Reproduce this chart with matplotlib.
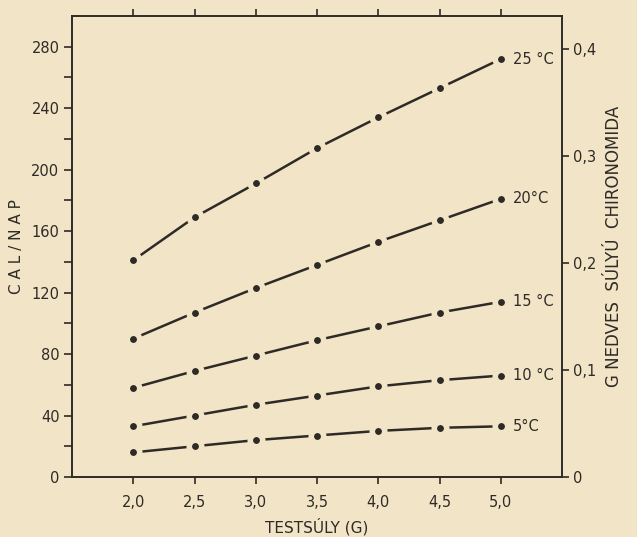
import matplotlib
matplotlib.use("Agg")
import matplotlib.pyplot as plt
import numpy as np

weights = [2.0, 2.5, 3.0, 3.5, 4.0, 4.5, 5.0]
cal_25 = [141, 169, 191, 214, 234, 253, 272]
cal_20 = [90, 107, 123, 138, 153, 167, 181]
cal_15 = [58, 69, 79, 89, 98, 107, 114]
cal_10 = [33, 40, 47, 53, 59, 63, 66]
cal_5 = [16, 20, 24, 27, 30, 32, 33]
series = [("25 °C", cal_25), ("20°C", cal_20), ("15 °C", cal_15),
          ("10 °C", cal_10), ("5°C", cal_5)]
x_ticks = [2.0, 2.5, 3.0, 3.5, 4.0, 4.5, 5.0]
x_labels = ["2,0", "2,5", "3,0", "3,5", "4,0", "4,5", "5,0"]
y_major = [0, 40, 80, 120, 160, 200, 240, 280]
y_labels = ["0", "40", "80", "120", "160", "200", "240", "280"]
r_ticks = [0, 0.1, 0.2, 0.3, 0.4]
r_labels = ["0", "0,1", "0,2", "0,3", "0,4"]

bg = "#f2e4c6"
ink = "#2e2a26"
plt.rcParams['font.family'] = ['DejaVu Sans']

fig = plt.figure(figsize=(6.37, 5.37), dpi=100, facecolor=bg)
ax = fig.add_axes([72/637, 60/537, 490/637, 461/537])
ax.set_facecolor(bg)

for label, vals in series:
    ax.plot(weights, vals, color=ink, lw=1.8, marker="o", ms=9,
            markerfacecolor=ink, markeredgecolor=bg, markeredgewidth=4.0,
            solid_capstyle="butt", zorder=3)
    ax.text(5.0 + 0.1, vals[-1], label, fontsize=10.5, color=ink,
            va="center", ha="left")

ax.set_xlim(1.5, 5.5)
ax.set_ylim(0, 300)
ax.set_xticks(x_ticks)
ax.set_xticklabels(x_labels, fontsize=10.5, color=ink)
ax.set_yticks(y_major)
ax.set_yticklabels(y_labels, fontsize=10.5, color=ink)
ax.set_yticks(np.arange(20, 300, 40), minor=True)
ax.tick_params(axis="both", which="both", direction="out", color=ink, width=1.2)
ax.tick_params(axis="x", length=5, top=True, pad=8)
ax.tick_params(axis="y", which="major", length=6, pad=3)
ax.tick_params(axis="y", which="minor", length=6)
for s in ["left", "bottom", "top"]:
    ax.spines[s].set_color(ink)
    ax.spines[s].set_linewidth(1.4)
ax.spines["right"].set_visible(False)

ax.set_xlabel("TESTSÚLY (G)", fontsize=11, color=ink, labelpad=6)
ax.set_ylabel("C A L / N A P", fontsize=11, color=ink, labelpad=5)

ax2 = ax.twinx()
ax2.set_ylim(0, 0.431)
ax2.set_yticks(r_ticks)
ax2.set_yticklabels(r_labels, fontsize=10.5, color=ink)
ax2.tick_params(axis="y", direction="out", length=5, color=ink, width=1.2, pad=3)
for s in ["left", "bottom", "top"]:
    ax2.spines[s].set_visible(False)
ax2.spines["right"].set_color(ink)
ax2.spines["right"].set_linewidth(1.4)
ax2.set_ylabel("G NEDVES  SÚLYÚ  CHIRONOMIDA", fontsize=12, color=ink,
               labelpad=6)

fig.savefig("out.png", dpi=100, facecolor=bg)
